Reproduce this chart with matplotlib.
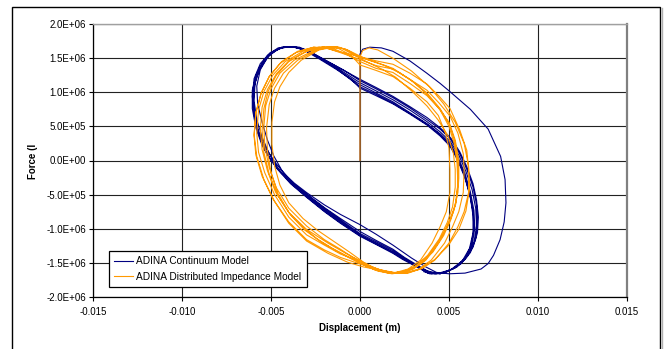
import numpy as np
import matplotlib
matplotlib.use("Agg")
import matplotlib.pyplot as plt
from matplotlib.lines import Line2D
from matplotlib.patches import Rectangle

plt.rcParams["font.family"] = ["Liberation Sans", "DejaVu Sans"]

# points are (displacement in mm, force in 1e5 N)
blue_first_loop = [
    (0.0, 0.0), (0.0, 6.0), (0.0, 12.0), (0.0, 15.6), (0.15, 16.3), (0.55, 16.6),
    (1.2, 16.5), (1.85, 16.0), (2.8, 14.6), (3.75, 12.8), (4.5, 11.3), (5.05, 10.1),
    (6.2, 7.5), (7.2, 4.6), (7.9, 0.6), (8.15, -2.8), (8.2, -6.2), (8.1, -9.0),
    (7.87, -11.6), (7.5, -13.9), (7.2, -15.1), (6.8, -15.9), (5.9, -16.5), (5.0, -16.6),
]
blue_cycle_1 = [
    (4.3, -16.4), (3.7, -15.6), (2.9, -14.3), (1.85, -12.4), (0.9, -10.8), (0.0, -9.4),
    (-1.1, -7.9), (-2.0, -6.5), (-3.0, -4.7), (-3.7, -3.3), (-4.3, -1.8), (-4.85, 0.0),
    (-5.3, 1.9), (-5.7, 4.3), (-5.95, 7.0), (-6.0, 9.6), (-5.85, 12.1), (-5.45, 14.3),
    (-4.9, 15.9), (-4.3, 16.6), (-3.7, 16.7), (-3.0, 16.2), (-2.1, 14.9), (-1.1, 13.5),
    (0.0, 11.9), (0.9, 10.7), (1.85, 9.4), (2.8, 7.9), (3.76, 6.3), (4.5, 4.8),
    (5.1, 3.3), (5.6, 1.3), (6.0, -0.9), (6.35, -3.4), (6.55, -5.8), (6.65, -8.3),
    (6.6, -10.6), (6.35, -12.7), (5.9, -14.5), (5.2, -15.9), (4.5, -16.6),
]
blue_cycle_2 = [
    (3.8, -16.2), (3.2, -15.3), (2.5, -14.2), (1.85, -13.0), (0.9, -11.7), (0.0, -10.4),
    (-1.1, -8.5), (-2.0, -6.9), (-3.0, -4.9), (-3.7, -3.5), (-4.4, -1.9), (-5.0, 0.0),
    (-5.5, 2.2), (-5.85, 4.8), (-6.05, 7.6), (-6.05, 10.3), (-5.8, 12.8), (-5.35, 14.9),
    (-4.75, 16.2), (-4.1, 16.7), (-3.4, 16.6), (-2.7, 15.8), (-1.8, 14.5), (-0.9, 13.2),
    (0.0, 11.7), (0.9, 10.5), (1.85, 9.2), (2.8, 7.7), (3.76, 6.0), (4.5, 4.6),
    (5.06, 3.2), (5.6, 1.0), (6.0, -1.3), (6.35, -3.9), (6.55, -6.5), (6.6, -9.1),
    (6.5, -11.5), (6.2, -13.5), (5.65, -15.2), (4.9, -16.3), (4.2, -16.6),
]
blue_cycle_3 = [
    (3.5, -15.9), (2.7, -14.7), (1.85, -13.2), (0.9, -11.9), (0.0, -10.7), (-1.1, -8.7),
    (-2.0, -7.0), (-3.0, -5.0), (-3.8, -3.4), (-4.5, -1.6), (-5.1, 0.5), (-5.55, 2.8),
    (-5.85, 5.4), (-6.0, 8.2), (-5.95, 10.9), (-5.65, 13.3), (-5.15, 15.3), (-4.5, 16.5),
    (-3.8, 16.7), (-3.1, 16.2), (-2.3, 15.1), (-1.3, 13.6), (0.0, 11.4), (0.9, 10.2),
    (1.85, 8.9), (2.8, 7.4), (3.76, 5.7), (4.5, 4.2), (5.06, 2.8), (5.55, 0.8),
    (5.95, -1.6), (6.3, -4.3), (6.5, -7.0), (6.55, -9.6), (6.4, -12.0), (6.05, -14.0),
    (5.45, -15.6), (4.7, -16.5), (4.0, -16.6),
]
blue_cycle_4 = [
    (3.4, -15.8), (2.6, -14.6), (1.85, -13.4), (0.9, -12.1), (0.0, -10.9), (-1.1, -8.9),
    (-2.0, -7.2), (-3.0, -5.1), (-3.8, -3.3), (-4.4, -1.4), (-4.85, 0.7), (-5.2, 3.0),
    (-5.5, 5.6), (-5.75, 8.3), (-5.8, 10.9), (-5.6, 13.3), (-5.15, 15.3), (-4.55, 16.4),
    (-3.9, 16.7), (-3.2, 16.3), (-2.4, 15.2), (-1.4, 13.6), (0.0, 11.1), (0.9, 9.9),
    (1.85, 8.6), (2.8, 7.0), (3.76, 5.4), (4.5, 3.9), (5.06, 2.5), (5.5, 0.5),
    (5.9, -1.9), (6.2, -4.6), (6.4, -7.3), (6.45, -9.9), (6.3, -12.3), (5.95, -14.2),
    (5.35, -15.7), (4.6, -16.5), (3.9, -16.6),
]
blue_cycle_5 = [
    (3.3, -15.7), (2.5, -14.5), (1.85, -13.5), (0.9, -12.2), (0.0, -11.0), (-1.1, -9.1),
    (-2.0, -7.4), (-3.0, -5.3), (-3.9, -3.3), (-4.6, -1.2), (-5.1, 1.0), (-5.5, 3.4),
    (-5.8, 6.0), (-5.95, 8.7), (-5.9, 11.3), (-5.65, 13.6), (-5.2, 15.4), (-4.6, 16.5),
    (-3.95, 16.7), (-3.3, 16.4), (-2.5, 15.4), (-1.5, 13.8), (-0.6, 12.0), (0.0, 10.8),
    (0.9, 9.7), (1.85, 8.4), (2.8, 6.9), (3.76, 5.3), (4.5, 3.8), (5.06, 2.3),
    (5.45, 0.4), (5.85, -2.0), (6.15, -4.8), (6.35, -7.5), (6.4, -10.0), (6.25, -12.4),
    (5.9, -14.3), (5.3, -15.8), (4.5, -16.6), (3.8, -16.5),
]
blue_cycle_6 = [
    (3.2, -15.6), (2.4, -14.5), (1.85, -13.6), (0.9, -12.3), (0.0, -11.1), (-1.1, -9.2),
    (-2.0, -7.5), (-3.0, -5.4), (-3.9, -3.4), (-4.7, -1.1), (-5.3, 1.3), (-5.7, 3.9),
    (-5.95, 6.7), (-6.05, 9.4), (-5.95, 12.0), (-5.6, 14.2), (-5.05, 15.8), (-4.4, 16.6),
    (-3.75, 16.7), (-3.1, 16.1), (-2.3, 14.9), (-1.3, 13.3), (-0.5, 11.9), (0.0, 10.6),
    (0.9, 9.5), (1.85, 8.3), (2.8, 6.8), (3.76, 5.2), (4.5, 3.6), (5.06, 2.1),
    (5.5, 0.0), (5.9, -2.6), (6.2, -5.4), (6.35, -8.1), (6.35, -10.6), (6.15, -12.9),
    (5.75, -14.7), (5.1, -16.0), (4.3, -16.6), (3.6, -16.3),
]

orange_first_loop = [
    (0.0, 0.0), (0.0, 5.0), (0.0, 10.0), (0.0, 15.2), (0.15, 16.1), (0.5, 16.5),
    (1.0, 16.2), (1.9, 14.9), (2.9, 13.1), (3.9, 10.8), (4.7, 8.3), (5.35, 5.6),
    (5.85, 2.5), (6.1, -0.8), (6.15, -4.2), (5.95, -7.4), (5.55, -10.1), (4.95, -12.5),
    (4.2, -14.5), (3.4, -15.9), (2.6, -16.5), (1.8, -16.4), (1.0, -16.0), (0.2, -15.6),
    (-0.7, -14.9), (-1.8, -13.6), (-3.0, -11.8), (-4.0, -9.2), (-4.8, -6.0), (-5.4, -2.8),
    (-5.8, 0.6), (-5.95, 3.8), (-5.85, 7.0), (-5.55, 9.9), (-5.1, 12.3), (-4.4, 14.5),
    (-3.5, 16.0), (-2.6, 16.6),
]
orange_cycle_1 = [
    (-1.8, 16.4), (-1.1, 15.9), (0.0, 15.2), (0.9, 14.6), (1.85, 14.1), (2.8, 12.8),
    (3.76, 11.2), (4.45, 9.4), (5.06, 7.6), (5.6, 4.5), (6.0, 1.5), (6.1, -1.3),
    (6.1, -4.7), (5.85, -7.5), (5.5, -9.7), (5.0, -12.1), (4.2, -14.6), (3.5, -15.8),
    (2.7, -16.5), (1.9, -16.4), (1.1, -16.0), (0.5, -15.6), (-0.3, -14.9), (-1.1, -14.2),
    (-2.0, -13.1), (-3.0, -11.6), (-4.0, -9.0), (-4.9, -5.6), (-5.5, -2.3), (-5.85, 0.8),
    (-5.95, 3.6), (-5.85, 7.0), (-5.55, 9.9), (-5.1, 12.3), (-4.5, 14.2), (-3.6, 15.8),
    (-2.6, 16.6),
]
orange_cycle_2 = [
    (-1.8, 16.4), (-1.1, 15.8), (0.0, 14.8), (0.9, 13.9), (1.85, 13.4), (2.8, 11.9),
    (3.76, 10.3), (4.45, 8.4), (5.06, 6.5), (5.5, 4.0), (5.8, 1.0), (5.85, -1.3),
    (5.8, -4.7), (5.55, -7.5), (5.2, -9.7), (4.75, -12.1), (4.0, -14.6), (3.3, -15.9),
    (2.5, -16.5), (1.7, -16.4), (1.0, -15.9), (0.3, -15.2), (-0.5, -14.3), (-1.1, -13.7),
    (-2.0, -12.4), (-3.0, -10.9), (-4.0, -8.3), (-4.8, -5.0), (-5.35, -1.8), (-5.7, 1.2),
    (-5.8, 4.0), (-5.7, 7.4), (-5.4, 10.1), (-4.9, 12.5), (-4.2, 14.5), (-3.2, 16.0),
    (-2.3, 16.65),
]
orange_cycle_3 = [
    (-1.5, 16.4), (-0.8, 15.6), (0.0, 14.5), (0.9, 13.5), (1.85, 12.9), (2.8, 11.3),
    (3.76, 9.5), (4.45, 7.6), (5.0, 5.6), (5.35, 3.0), (5.55, 0.0), (5.55, -2.6),
    (5.5, -4.7), (5.25, -7.5), (4.9, -9.7), (4.4, -12.1), (3.7, -14.6), (3.0, -15.9),
    (2.2, -16.5), (1.4, -16.3), (0.7, -15.6), (0.0, -14.7), (-0.8, -13.6), (-1.8, -12.1),
    (-3.0, -10.1), (-4.0, -7.6), (-4.75, -4.6), (-5.2, -1.5), (-5.5, 1.6), (-5.6, 4.6),
    (-5.5, 7.8), (-5.2, 10.4), (-4.7, 12.7), (-4.0, 14.6), (-3.0, 16.0), (-2.0, 16.7),
]
orange_cycle_4 = [
    (-1.2, 16.4), (-0.5, 15.4), (0.0, 14.0), (0.9, 13.2), (1.85, 12.3), (2.8, 10.6),
    (3.76, 8.6), (4.4, 6.6), (4.8, 4.0), (5.0, 1.8), (5.05, -1.3), (5.05, -4.7),
    (4.85, -7.5), (4.5, -9.7), (4.05, -12.1), (3.4, -14.6), (2.7, -15.9), (1.9, -16.5),
    (1.1, -16.2), (0.4, -15.4), (-0.4, -14.2), (-1.1, -13.0), (-2.0, -11.6), (-3.0, -9.6),
    (-4.0, -7.0), (-4.7, -4.0), (-5.1, -1.0), (-5.35, 2.0), (-5.4, 5.0), (-5.3, 8.0),
    (-5.0, 10.5), (-4.5, 12.8), (-3.7, 14.7), (-2.6, 16.1), (-1.7, 16.7),
]
orange_cycle_5 = [
    (-1.0, 16.4), (-0.3, 15.4), (0.5, 14.3), (1.3, 13.3), (2.0, 12.2), (2.9, 10.2),
    (3.76, 8.0), (4.4, 5.9), (4.95, 3.6), (5.25, 1.0), (5.35, -1.3), (5.35, -3.9),
    (5.2, -6.8), (4.9, -9.1), (4.45, -11.5), (3.8, -13.9), (3.1, -15.5), (2.4, -16.3),
    (1.6, -16.5), (0.8, -16.0), (0.0, -15.0), (-0.8, -13.9), (-1.6, -12.8), (-2.4, -11.5),
    (-3.2, -9.8), (-4.0, -7.6), (-4.6, -4.9), (-5.0, -1.8), (-5.2, 1.4), (-5.25, 4.8),
    (-5.1, 8.2), (-4.8, 10.6), (-4.3, 12.8), (-3.5, 14.7), (-2.4, 16.2), (-1.5, 16.7),
]
orange_cycle_6 = [
    (-0.8, 16.3), (0.0, 15.1), (0.9, 14.4), (1.85, 13.5), (2.8, 11.9), (3.76, 9.9),
    (4.5, 7.6), (5.05, 5.2), (5.35, 2.6), (5.5, -0.3), (5.5, -3.5), (5.35, -6.5),
    (5.0, -9.0), (4.55, -11.4), (3.9, -13.8), (3.2, -15.4), (2.5, -16.3), (1.7, -16.5),
    (0.9, -15.9), (0.2, -14.9), (-0.6, -13.4), (-1.5, -11.8), (-2.4, -10.2), (-3.2, -8.5),
    (-4.0, -6.2), (-4.5, -3.6), (-4.8, -0.8), (-4.95, 2.4), (-4.95, 5.6), (-4.8, 8.6),
    (-4.5, 10.8), (-4.0, 12.9), (-3.3, 14.7), (-2.3, 16.2), (-1.3, 16.7),
]
orange_cycle_7 = [
    (-0.7, 16.2), (0.0, 15.3), (0.5, 14.7), (1.4, 13.9), (2.2, 12.9), (3.0, 11.5),
    (3.8, 9.6), (4.5, 7.4), (5.0, 5.0), (5.3, 2.4), (5.45, -0.4), (5.5, -3.4),
    (5.4, -6.2), (5.1, -8.7), (4.7, -11.0), (4.1, -13.4), (3.4, -15.2), (2.6, -16.3),
    (1.8, -16.6), (1.0, -16.2), (0.3, -15.4), (-0.5, -14.4), (-1.3, -13.3), (-2.2, -11.9),
    (-3.1, -10.2), (-3.9, -8.0), (-4.6, -5.2), (-5.1, -2.0), (-5.4, 1.2), (-5.5, 4.4),
    (-5.4, 7.6), (-5.15, 10.2), (-4.7, 12.5), (-4.0, 14.5), (-3.0, 16.0), (-2.1, 16.6),
]

blue_parts = [blue_first_loop, blue_cycle_1, blue_cycle_2, blue_cycle_3,
              blue_cycle_4, blue_cycle_5, blue_cycle_6]
orange_parts = [orange_first_loop, orange_cycle_1, orange_cycle_2, orange_cycle_3,
                orange_cycle_4, orange_cycle_5, orange_cycle_6, orange_cycle_7]

series_names = ["ADINA Continuum Model", "ADINA Distributed Impedance Model"]
series_colors = ["#000080", "#FF9900"]

x_ticks = [-0.015, -0.010, -0.005, 0.000, 0.005, 0.010, 0.015]
x_tick_labels = ["-0.015", "-0.010", "-0.005", "0.000", "0.005", "0.010", "0.015"]
y_ticks = [-2.0e6, -1.5e6, -1.0e6, -5.0e5, 0.0, 5.0e5, 1.0e6, 1.5e6, 2.0e6]
y_tick_labels = ["-2.0E+06", "-1.5E+06", "-1.0E+06", "-5.0E+05", "0.0E+00",
                 "5.0E+05", "1.0E+06", "1.5E+06", "2.0E+06"]


def trace(parts):
    pts = np.array([p for part in parts for p in part])
    return pts[:, 0] * 1e-3, pts[:, 1] * 1e5


W, H = 670, 349
fig = plt.figure(figsize=(W / 100, H / 100), dpi=100)
ax = fig.add_axes([93 / W, 1 - 297 / H, 534 / W, 273 / H])

for parts, name, color in zip([blue_parts, orange_parts], series_names, series_colors):
    x, y = trace(parts)
    ax.plot(x, y, color=color, linewidth=0.8, label=name, solid_joinstyle="round")

ax.set_xlim(-0.015, 0.015)
ax.set_ylim(-2.0e6, 2.0e6)
ax.set_xticks(x_ticks)
ax.set_xticklabels(x_tick_labels)
ax.set_yticks(y_ticks)
ax.set_yticklabels(y_tick_labels)
ax.tick_params(direction="out", length=3, width=0.8, labelsize=7, pad=2, color="black")
ax.tick_params(axis="x", pad=4)
ax.grid(True, color="#222222", linewidth=0.8)
ax.set_axisbelow(True)

for side in ["left", "bottom"]:
    ax.spines[side].set_color("black")
    ax.spines[side].set_linewidth(0.9)
ax.spines["top"].set_color("#a0a0a0")
ax.spines["top"].set_linewidth(1.0)
ax.spines["right"].set_color("#808080")
ax.spines["right"].set_linewidth(1.6)

leg = ax.legend(loc="upper left", bbox_to_anchor=(0.030, 0.1685), borderaxespad=0,
                fontsize=7.3, frameon=True, fancybox=False, framealpha=1,
                edgecolor="black", handlelength=1.9, handletextpad=0.3,
                borderpad=0.5, labelspacing=0.55)
leg.get_frame().set_linewidth(0.9)

fig.text(360 / W, 1 - 328 / H, "Displacement (m)", fontsize=7, fontweight="bold",
         ha="center", va="center")
fig.text(33 / W, 1 - 161 / H, "Force (l", fontsize=7, fontweight="bold",
         ha="center", va="center", rotation=90)

# outer chart border
fig.patches.append(Rectangle((12 / W, -0.1), 648 / W, 1.1 - 7 / H, transform=fig.transFigure,
                             fill=False, edgecolor="black", linewidth=1.0))
fig.lines.append(Line2D([662 / W, 662 / W], [0, 1 - 8 / H], transform=fig.transFigure,
                        color="#b0b0b0", linewidth=1.0))

fig.savefig("out.png", dpi=100)
